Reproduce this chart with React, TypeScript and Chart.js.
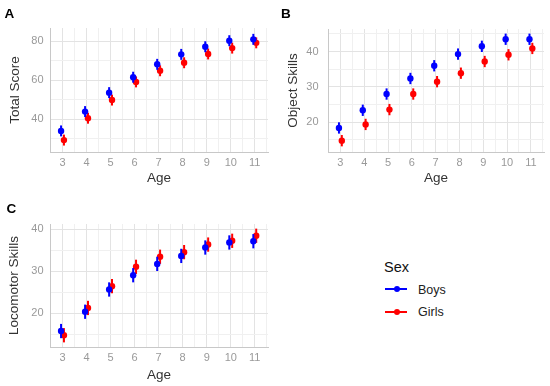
import React, { useEffect, useRef } from 'react';
import { Chart, registerables } from 'chart.js';

Chart.register(...registerables);

// ---------- data ----------
const ages = [3, 4, 5, 6, 7, 8, 9, 10, 11];
const xMinorTicks = [2.5, 3.5, 4.5, 5.5, 6.5, 7.5, 8.5, 9.5, 10.5, 11.5];

const totalBoys = [34.0, 43.9, 53.6, 61.5, 68.1, 73.2, 77.1, 80.2, 80.9];
const totalGirls = [29.3, 40.5, 49.8, 59.1, 64.8, 68.9, 73.4, 76.4, 79.1];
const totalBoysErr = [2.8, 2.8, 2.8, 2.8, 2.8, 2.8, 2.8, 2.8, 2.8];
const totalGirlsErr = [2.8, 2.8, 2.8, 2.8, 2.8, 2.8, 2.8, 2.8, 2.8];
const totalMajorTicks = [40, 60, 80];
const totalMinorTicks = [30, 50, 70];

const objectBoys = [18.4, 23.4, 28.0, 32.4, 36.0, 39.3, 41.5, 43.5, 43.5];
const objectGirls = [14.8, 19.4, 23.6, 28.0, 31.5, 33.9, 37.2, 39.1, 40.9];
const objectBoysErr = [1.6, 1.6, 1.6, 1.6, 1.6, 1.6, 1.6, 1.6, 1.6];
const objectGirlsErr = [1.6, 1.6, 1.6, 1.6, 1.6, 1.6, 1.6, 1.6, 1.6];
const objectMajorTicks = [20, 30, 40];
const objectMinorTicks = [15, 25, 35, 45];

const locoBoys = [15.8, 20.4, 25.7, 29.1, 31.8, 33.7, 35.7, 36.9, 37.2];
const locoGirls = [14.8, 21.3, 26.5, 31.1, 33.5, 34.6, 36.4, 37.3, 38.5];
const locoBoysErr = [1.7, 1.7, 1.7, 1.7, 1.7, 1.7, 1.7, 1.7, 1.7];
const locoGirlsErr = [1.7, 1.7, 1.7, 1.7, 1.7, 1.7, 1.7, 1.7, 1.7];
const locoMajorTicks = [20, 30, 40];
const locoMinorTicks = [15, 25, 35];

const seriesNames = ['Boys', 'Girls'];
const legendTitle = 'Sex';

// ---------- style ----------
const BLUE = '#0000FF';
const RED = '#FF0000';
const DODGE = 0.06;
const FONT = "'Liberation Sans', Arial, sans-serif";
const TICK_COLOR = '#999999';
const TITLE_COLOR = '#333333';
const GRID_MAJOR = '#e3e3e3';
const GRID_MINOR = '#f0f0f0';
const AXIS_LINE = '#c8c8c8';

const errorBarPlugin = {
  id: 'errorBars',
  beforeDatasetDraw(chart: any, args: any) {
    const ds = chart.data.datasets[args.index];
    const errs = ds.errors;
    if (!errs) return;
    const xs = chart.scales.x;
    const ys = chart.scales.y;
    const ctx = chart.ctx;
    ctx.save();
    ctx.strokeStyle = ds.borderColor;
    ctx.lineWidth = 2;
    ds.data.forEach((p: any, i: number) => {
      const px = xs.getPixelForValue(p.x);
      ctx.beginPath();
      ctx.moveTo(px, ys.getPixelForValue(p.y - errs[i]));
      ctx.lineTo(px, ys.getPixelForValue(p.y + errs[i]));
      ctx.stroke();
    });
    ctx.restore();
  },
};

type PanelProps = {
  left: number;
  top: number;
  width: number;
  height: number;
  boys: number[];
  girls: number[];
  boysErr: number[];
  girlsErr: number[];
  yMin: number;
  yMax: number;
  yMajor: number[];
  yMinor: number[];
  yTitle: string;
  pad: { top: number; right: number };
  yWidth: number;
  xHeight: number;
  yTitlePad: number;
  xTitlePad: number;
  yTickPad: number;
};

function Panel(p: PanelProps) {
  const ref = useRef<HTMLCanvasElement | null>(null);
  useEffect(() => {
    if (!ref.current) return;
    const chart = new Chart(ref.current, {
      type: 'scatter',
      data: {
        datasets: [
          {
            label: seriesNames[0],
            data: ages.map((a, i) => ({ x: a - DODGE, y: p.boys[i] })),
            errors: p.boysErr,
            backgroundColor: BLUE,
            borderColor: BLUE,
            pointRadius: 3.2,
            pointBorderWidth: 0,
          } as any,
          {
            label: seriesNames[1],
            data: ages.map((a, i) => ({ x: a + DODGE, y: p.girls[i] })),
            errors: p.girlsErr,
            backgroundColor: RED,
            borderColor: RED,
            pointRadius: 3.2,
            pointBorderWidth: 0,
          } as any,
        ],
      },
      options: {
        responsive: false,
        animation: false,
        events: [],
        layout: { padding: { left: 0, top: p.pad.top, right: p.pad.right, bottom: 0 } },
        plugins: { legend: { display: false }, tooltip: { enabled: false } },
        scales: {
          x: {
            type: 'linear',
            min: 2.48,
            max: 11.55,
            afterBuildTicks: (axis: any) => {
              axis.ticks = [...ages, ...xMinorTicks].sort((a, b) => a - b).map((v) => ({ value: v }));
            },
            afterFit: (axis: any) => {
              axis.height = p.xHeight;
            },
            ticks: {
              autoSkip: false,
              maxRotation: 0,
              padding: 4.5,
              color: TICK_COLOR,
              font: { family: FONT, size: 11 },
              callback: (v: any) => (ages.includes(Number(v)) ? String(v) : ''),
            },
            grid: {
              drawTicks: false,
              color: (c: any) => (c.tick && ages.includes(c.tick.value) ? GRID_MAJOR : GRID_MINOR),
              lineWidth: 1,
            },
            border: { display: true, color: AXIS_LINE, width: 1 },
            title: {
              display: true,
              text: 'Age',
              color: TITLE_COLOR,
              font: { family: FONT, size: 13.5 },
              padding: { top: 0, bottom: p.xTitlePad },
            },
          },
          y: {
            type: 'linear',
            min: p.yMin,
            max: p.yMax,
            afterBuildTicks: (axis: any) => {
              axis.ticks = [...p.yMajor, ...p.yMinor].sort((a, b) => a - b).map((v) => ({ value: v }));
            },
            afterFit: (axis: any) => {
              axis.width = p.yWidth;
            },
            ticks: {
              padding: p.yTickPad,
              color: TICK_COLOR,
              font: { family: FONT, size: 11 },
              callback: (v: any) => (p.yMajor.includes(Number(v)) ? String(v) : ''),
            },
            grid: {
              drawTicks: false,
              color: (c: any) => (c.tick && p.yMajor.includes(c.tick.value) ? GRID_MAJOR : GRID_MINOR),
              lineWidth: 1,
            },
            border: { display: true, color: AXIS_LINE, width: 1 },
            title: {
              display: true,
              text: p.yTitle,
              color: TITLE_COLOR,
              font: { family: FONT, size: 13.5 },
              padding: { top: p.yTitlePad, bottom: 0 },
            },
          },
        },
      } as any,
      plugins: [errorBarPlugin],
    });
    return () => chart.destroy();
  }, []);
  return (
    <canvas
      ref={ref}
      width={p.width}
      height={p.height}
      style={{ position: 'absolute', left: p.left, top: p.top, width: p.width, height: p.height }}
    />
  );
}

const labelStyle = (left: number, top: number): React.CSSProperties => ({
  position: 'absolute',
  left,
  top,
  fontFamily: FONT,
  fontWeight: 'bold',
  fontSize: 13.5,
  lineHeight: '13.5px',
  color: '#000',
  whiteSpace: 'nowrap',
});

function LegendKey({ top, color, text }: { top: number; color: string; text: string }) {
  return (
    <>
      <div style={{ position: 'absolute', left: 385, top: top - 1, width: 22, height: 2, background: color }} />
      <div
        style={{ position: 'absolute', left: 393.5, top: top - 3, width: 6, height: 6, borderRadius: 3, background: color }}
      />
      <div
        style={{
          position: 'absolute',
          left: 418,
          top: top - 5.5,
          fontFamily: FONT,
          fontSize: 12.5,
          lineHeight: '12.5px',
          color: '#222',
          whiteSpace: 'nowrap',
        }}
      >
        {text}
      </div>
    </>
  );
}

export default function App() {
  return (
    <div style={{ position: 'absolute', left: 0, top: 0, width: 550, height: 386, background: '#fff', overflow: 'hidden' }}>
      <Panel
        left={0}
        top={0}
        width={275}
        height={190}
        boys={totalBoys}
        girls={totalGirls}
        boysErr={totalBoysErr}
        girlsErr={totalGirlsErr}
        yMin={23.2}
        yMax={86.7}
        yMajor={totalMajorTicks}
        yMinor={totalMinorTicks}
        yTitle="Total Score"
        pad={{ top: 28, right: 7 }}
        yWidth={50}
        xHeight={38}
        yTitlePad={7.4}
        xTitlePad={3.9}
        yTickPad={6.5}
      />
      <Panel
        left={275}
        top={0}
        width={275}
        height={190}
        boys={objectBoys}
        girls={objectGirls}
        boysErr={objectBoysErr}
        girlsErr={objectGirlsErr}
        yMin={11.6}
        yMax={46.4}
        yMajor={objectMajorTicks}
        yMinor={objectMinorTicks}
        yTitle="Object Skills"
        pad={{ top: 29, right: 6 }}
        yWidth={53}
        xHeight={38}
        yTitlePad={9.7}
        xTitlePad={3.2}
        yTickPad={9.5}
      />
      <Panel
        left={0}
        top={190}
        width={275}
        height={196}
        boys={locoBoys}
        girls={locoGirls}
        boysErr={locoBoysErr}
        girlsErr={locoGirlsErr}
        yMin={12.0}
        yMax={41.3}
        yMajor={locoMajorTicks}
        yMinor={locoMinorTicks}
        yTitle="Locomotor Skills"
        pad={{ top: 34, right: 7 }}
        yWidth={50}
        xHeight={39}
        yTitlePad={6.4}
        xTitlePad={2.9}
        yTickPad={6.5}
      />
      <div style={labelStyle(4.5, 7.1)}>A</div>
      <div style={labelStyle(281, 6.9)}>B</div>
      <div style={labelStyle(6.5, 201.7)}>C</div>
      <div
        style={{
          position: 'absolute',
          left: 384,
          top: 259.6,
          fontFamily: FONT,
          fontSize: 14.5,
          lineHeight: '14.5px',
          color: '#111',
          whiteSpace: 'nowrap',
        }}
      >
        {legendTitle}
      </div>
      <LegendKey top={289.3} color={BLUE} text={seriesNames[0]} />
      <LegendKey top={311.7} color={RED} text={seriesNames[1]} />
    </div>
  );
}
